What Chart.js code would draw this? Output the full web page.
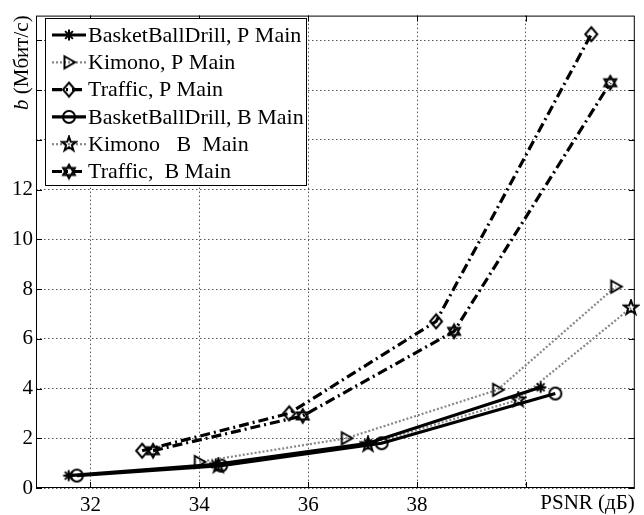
<!DOCTYPE html>
<html>
<head>
<meta charset="utf-8">
<script src="https://cdn.jsdelivr.net/npm/chart.js@4.4.1/dist/chart.umd.min.js"></script>
<style>
  html, body { margin: 0; padding: 0; background: #fff; }
</style>
</head>
<body>
<canvas id="psnrChart" width="644" height="515"></canvas>
<script>
// series names as in the legend
const seriesNames = [
  "BasketBallDrill, P Main",
  "Kimono, P Main",
  "Traffic, P Main",
  "BasketBallDrill, B Main",
  "Kimono   B  Main",
  "Traffic,  B Main"
];

// PSNR (dB) and bitrate (Mbit/s) per series
const bbdP_psnr = [31.6, 34.3, 37.1, 40.27];
const bbdP_rate = [0.5, 0.95, 1.8, 4.05];
const kimP_psnr = [34.0, 36.7, 39.48, 41.65];
const kimP_rate = [1.05, 2.0, 3.95, 8.1];
const trfP_psnr = [32.95, 35.65, 38.35, 41.2];
const trfP_rate = [1.5, 3.0, 6.7, 18.25];
const bbdB_psnr = [31.75, 34.4, 37.35, 40.54];
const bbdB_rate = [0.5, 0.9, 1.8, 3.8];
const kimB_psnr = [34.35, 37.1, 39.86, 41.93];
const kimB_rate = [0.9, 1.75, 3.55, 7.25];
const trfB_psnr = [33.15, 35.9, 38.68, 41.55];
const trfB_rate = [1.5, 2.9, 6.3, 16.3];

// axis ticks
const xTicks = [32, 34, 36, 38, 40];
const xTickLabels = ["32", "34", "36", "38", ""];
const yTicks = [0, 2, 4, 6, 8, 10, 12, 14, 16, 18];
const yTickLabels = ["0", "2", "4", "6", "8", "10", "12", "", "", ""];

const serif = "'Liberation Serif', 'Times New Roman', serif";

// marker images (MATLAB-like, hollow)
function makeMarker(kind) {
  const c = document.createElement("canvas");
  c.width = 18; c.height = 18;
  const g = c.getContext("2d");
  const cx = 9, cy = 9;
  g.strokeStyle = "#000";
  g.lineWidth = 2;
  g.beginPath();
  if (kind === "asterisk") {
    for (let i = 0; i < 4; i++) {
      const a = i * Math.PI / 4;
      g.moveTo(cx - 5.5 * Math.cos(a), cy - 5.5 * Math.sin(a));
      g.lineTo(cx + 5.5 * Math.cos(a), cy + 5.5 * Math.sin(a));
    }
    g.stroke();
  } else if (kind === "triangle") {
    g.moveTo(cx - 4.5, cy - 6);
    g.lineTo(cx + 6, cy);
    g.lineTo(cx - 4.5, cy + 6);
    g.closePath();
    g.stroke();
  } else if (kind === "diamond") {
    g.moveTo(cx, cy - 7);
    g.lineTo(cx + 6, cy);
    g.lineTo(cx, cy + 7);
    g.lineTo(cx - 6, cy);
    g.closePath();
    g.stroke();
  } else if (kind === "circle") {
    g.arc(cx, cy, 6, 0, Math.PI * 2);
    g.stroke();
  } else if (kind === "pentagram") {
    for (let i = 0; i < 10; i++) {
      const r = i % 2 === 0 ? 7.5 : 3;
      const a = -Math.PI / 2 + i * Math.PI / 5;
      const px = cx + r * Math.cos(a), py = cy + r * Math.sin(a);
      if (i === 0) g.moveTo(px, py); else g.lineTo(px, py);
    }
    g.closePath();
    g.stroke();
  } else if (kind === "hexagram") {
    g.lineWidth = 1.8;
    for (let t = 0; t < 2; t++) {
      for (let i = 0; i < 3; i++) {
        const a = -Math.PI / 2 + t * Math.PI / 3 + i * 2 * Math.PI / 3;
        const px = cx + 7 * Math.cos(a), py = cy + 7 * Math.sin(a);
        if (i === 0) g.moveTo(px, py); else g.lineTo(px, py);
      }
      g.closePath();
    }
    g.stroke();
  }
  return c;
}

const markers = {
  asterisk: makeMarker("asterisk"),
  triangle: makeMarker("triangle"),
  diamond: makeMarker("diamond"),
  circle: makeMarker("circle"),
  pentagram: makeMarker("pentagram"),
  hexagram: makeMarker("hexagram")
};

const solid = [];
const dotted = [2, 2];
const dashDot = [10, 4, 2, 4];

function pts(xs, ys) {
  return xs.map((x, i) => ({ x: x, y: ys[i] }));
}

function series(i, xs, ys, marker, dash, color, width) {
  return {
    label: seriesNames[i],
    data: pts(xs, ys),
    borderColor: color,
    borderWidth: width,
    borderDash: dash,
    pointStyle: markers[marker],
    pointRadius: 6,
    fill: false,
    tension: 0,
    clip: false
  };
}

const datasets = [
  series(0, bbdP_psnr, bbdP_rate, "asterisk", solid, "#000", 3.2),
  series(1, kimP_psnr, kimP_rate, "triangle", dotted, "#888", 2.2),
  series(2, trfP_psnr, trfP_rate, "diamond", dashDot, "#000", 3.2),
  series(3, bbdB_psnr, bbdB_rate, "circle", solid, "#000", 3.2),
  series(4, kimB_psnr, kimB_rate, "pentagram", dotted, "#888", 2.2),
  series(5, trfB_psnr, trfB_rate, "hexagram", dashDot, "#000", 3.2)
];

// box, inner ticks, axis titles and legend drawn by hand (MATLAB style)
const matlabFrame = {
  id: "matlabFrame",
  afterDraw(chart) {
    const ctx = chart.ctx;
    const a = chart.chartArea;
    const xs = chart.scales.x, ys = chart.scales.y;
    ctx.save();
    ctx.strokeStyle = "#000";
    ctx.lineWidth = 1;
    ctx.setLineDash([]);
    ctx.strokeRect(a.left + 0.5, a.top + 0.5, a.right - a.left - 1, a.bottom - a.top - 1);

    ctx.beginPath();
    xTicks.forEach(v => {
      const px = Math.round(xs.getPixelForValue(v)) + 0.5;
      ctx.moveTo(px, a.bottom); ctx.lineTo(px, a.bottom - 6);
      ctx.moveTo(px, a.top); ctx.lineTo(px, a.top + 6);
    });
    yTicks.forEach(v => {
      const py = Math.round(ys.getPixelForValue(v)) + 0.5;
      ctx.moveTo(a.left, py); ctx.lineTo(a.left + 6, py);
      ctx.moveTo(a.right, py); ctx.lineTo(a.right - 6, py);
    });
    ctx.stroke();

    // x title in the tick row
    ctx.fillStyle = "#000";
    ctx.font = "21px " + serif;
    ctx.textAlign = "right";
    ctx.textBaseline = "middle";
    ctx.fillText("PSNR (дБ)", a.right, 503);

    // y title, rotated
    ctx.save();
    ctx.translate(22, 110);
    ctx.rotate(-Math.PI / 2);
    ctx.textAlign = "left";
    ctx.textBaseline = "middle";
    ctx.font = "italic 21px " + serif;
    ctx.fillText("b", 0, 0);
    const bw = ctx.measureText("b").width;
    ctx.font = "21px " + serif;
    ctx.fillText(" (Мбит/с)", bw, 0);
    ctx.restore();

    // legend
    const lx = 45, ly = 18, lw = 261, lh = 167;
    ctx.fillStyle = "#fff";
    ctx.fillRect(lx, ly, lw, lh);
    ctx.strokeRect(lx + 0.5, ly + 0.5, lw, lh);
    ctx.font = "22px " + serif;
    ctx.textAlign = "left";
    chart.data.datasets.forEach((ds, i) => {
      const y = 35 + i * 27.3;
      ctx.beginPath();
      ctx.strokeStyle = ds.borderColor;
      ctx.lineWidth = ds.borderWidth;
      ctx.setLineDash(ds.borderDash);
      ctx.moveTo(52, y); ctx.lineTo(86, y);
      ctx.stroke();
      ctx.setLineDash([]);
      const m = ds.pointStyle;
      ctx.drawImage(m, 69 - m.width / 2, y - m.height / 2);
      ctx.fillStyle = "#000";
      ctx.fillText(ds.label, 88, y + 1);
    });
    ctx.restore();
  }
};

const ctx = document.getElementById("psnrChart").getContext("2d");

const psnrChart = new Chart(ctx, {
  type: "line",
  data: { datasets: datasets },
  options: {
    responsive: false,
    animation: false,
    devicePixelRatio: 1,
    layout: { padding: { top: 12, right: 2, left: 0, bottom: 0 } },
    plugins: {
      legend: { display: false },
      tooltip: { enabled: false }
    },
    scales: {
      x: {
        type: "linear",
        min: 31,
        max: 42,
        afterBuildTicks: s => { s.ticks = xTicks.map(v => ({ value: v })); },
        afterFit: s => { s.height = 27; },
        ticks: {
          autoSkip: false,
          maxRotation: 0,
          padding: 5,
          color: "#000",
          font: { family: serif, size: 21 },
          callback: (v) => xTickLabels[xTicks.indexOf(v)]
        },
        grid: { color: "#555", lineWidth: 1, drawTicks: false },
        border: { display: false, dash: [1.5, 2.5] }
      },
      y: {
        type: "linear",
        min: 0,
        max: 19,
        afterBuildTicks: s => { s.ticks = yTicks.map(v => ({ value: v })); },
        afterFit: s => { s.width = 36; },
        ticks: {
          autoSkip: false,
          padding: 3,
          color: "#000",
          font: { family: serif, size: 21 },
          callback: (v) => yTickLabels[yTicks.indexOf(v)]
        },
        grid: { color: "#555", lineWidth: 1, drawTicks: false },
        border: { display: false, dash: [1.5, 2.5] }
      }
    }
  },
  plugins: [matlabFrame]
});
</script>
</body>
</html>
